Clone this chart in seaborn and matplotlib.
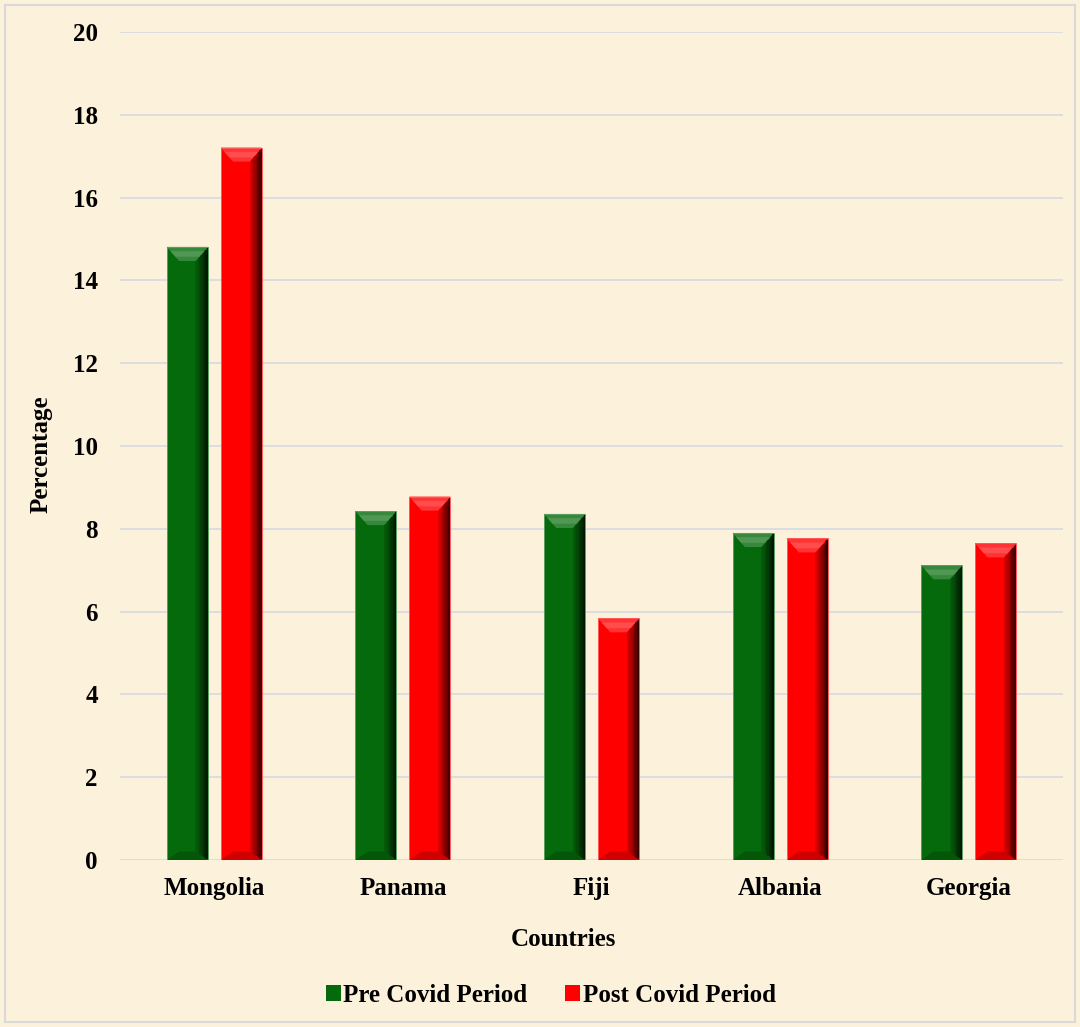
import matplotlib
matplotlib.use("Agg")
import matplotlib.pyplot as plt
import seaborn as sns
import pandas as pd
from matplotlib.patches import Polygon, Rectangle
from matplotlib.colors import to_rgb

countries = ["Mongolia", "Panama", "Fiji", "Albania", "Georgia"]
pre_covid = [14.81, 8.43, 8.36, 7.90, 7.12]
post_covid = [17.21, 8.78, 5.84, 7.77, 7.65]
series = ["Pre Covid Period", "Post Covid Period"]
yticks = [0, 2, 4, 6, 8, 10, 12, 14, 16, 18, 20]

colors = {"Pre Covid Period": "#056A0B", "Post Covid Period": "#FF0000"}

df = pd.DataFrame({
    "Country": countries * 2,
    "Value": pre_covid + post_covid,
    "Period": [series[0]] * len(countries) + [series[1]] * len(countries),
})

sns.set_theme(style="white")
plt.rcParams["font.family"] = ["Liberation Serif", "DejaVu Serif"]
plt.rcParams["font.weight"] = "bold"
plt.rcParams["text.color"] = "black"
plt.rcParams["axes.labelcolor"] = "black"
plt.rcParams["xtick.color"] = "black"
plt.rcParams["ytick.color"] = "black"

bg = "#FCF1DA"
fig = plt.figure(figsize=(10.8, 10.27), dpi=100, facecolor=bg)
ax = fig.add_axes([0.1111, 0.1626, 0.8731, 0.8062])
ax.set_facecolor(bg)

sns.barplot(data=df, x="Country", y="Value", hue="Period", order=countries,
            hue_order=series, palette=colors, width=0.573, gap=0.24,
            saturation=1, ax=ax, zorder=3, edgecolor="none")

def mix(c, t, f):
    c = to_rgb(c); t = to_rgb(t)
    return tuple(c[i] * (1 - f) + t[i] * f for i in range(3))

# bevel effect derived from the bar patches
for cont in ax.containers:
    for p in cont.patches:
        x0, y0 = p.get_x(), p.get_y()
        w, h = p.get_width(), p.get_height()
        base = p.get_facecolor()[:3]
        bx = w * 0.3
        by = 0.34
        x1 = x0 + w
        top = y0 + h
        # right dark gradient
        n = 10
        for k in range(n):
            xa = x1 - bx * (1 - k / n)
            xb = x1 - bx * (1 - (k + 1) / n)
            f = 0.1 + 0.7 * ((k + 1) / n) ** 1.3
            ax.add_patch(Rectangle((xa, y0 + 0.5 * by * (1 - k / n)), xb - xa,
                                   h - 1.5 * by * (1 - k / n),
                                   facecolor=mix(base, "black", f), edgecolor="none", zorder=4))
        # top light facet
        ax.add_patch(Polygon([(x0, top), (x1, top), (x1 - bx, top - by), (x0 + bx, top - by)],
                             closed=True, facecolor=mix(base, "white", 0.2), edgecolor="none", zorder=4))
        ax.add_patch(Polygon([(x0 + bx * 0.3, top - by * 0.3), (x1 - bx * 0.3, top - by * 0.3),
                              (x1 - bx * 0.7, top - by * 0.7), (x0 + bx * 0.7, top - by * 0.7)],
                             closed=True, facecolor=mix(base, "white", 0.3), edgecolor="none", zorder=4))
        # bottom dark facet
        ax.add_patch(Polygon([(x0, y0), (x1, y0), (x1 - bx, y0 + by * 0.6), (x0 + bx, y0 + by * 0.6)],
                             closed=True, facecolor=mix(base, "black", 0.18), edgecolor="none", zorder=4))
        # thin outline
        ax.add_patch(Rectangle((x0, y0), w, h, facecolor="none",
                               edgecolor=mix(base, "white", 0.35), linewidth=0.7, zorder=5))

ax.set_ylim(0, 20)
ax.set_xlim(-0.5, 4.5)
ax.set_yticks(yticks)
ax.set_yticklabels([str(t) for t in yticks])
ax.yaxis.grid(True, color="#D5DAE3", linewidth=1.2, zorder=0)
ax.xaxis.grid(False)
for s in ax.spines.values():
    s.set_visible(False)
ax.tick_params(axis="both", length=0, labelsize=18, labelcolor="black")
ax.tick_params(axis="y", pad=16)
ax.tick_params(axis="x", pad=12)
for lab in ax.get_xticklabels() + ax.get_yticklabels():
    lab.set_fontweight("bold")

ax.set_xlabel("Countries", fontsize=18, fontweight="bold", color="black")
ax.xaxis.set_label_coords(0.47, -0.082)
ax.set_ylabel("Percentage", fontsize=18, fontweight="bold", color="black")
ax.yaxis.set_label_coords(-0.072, 0.49)

handles, labels = ax.get_legend_handles_labels()
ax.get_legend().remove()
fig.legend(handles, labels, loc="center", bbox_to_anchor=(0.51, 0.0305), ncol=2, frameon=False,
           prop={"size": 18, "weight": "bold"}, handlelength=0.6, handleheight=0.6,
           handletextpad=0.1, columnspacing=1.5)

# figure border
fig.patches.append(Rectangle((0.005, 0.005), 0.99, 0.99, transform=fig.transFigure,
                             facecolor="none", edgecolor="#D9D9D9", linewidth=1.5))

fig.savefig("out.png", dpi=100, facecolor=bg)
